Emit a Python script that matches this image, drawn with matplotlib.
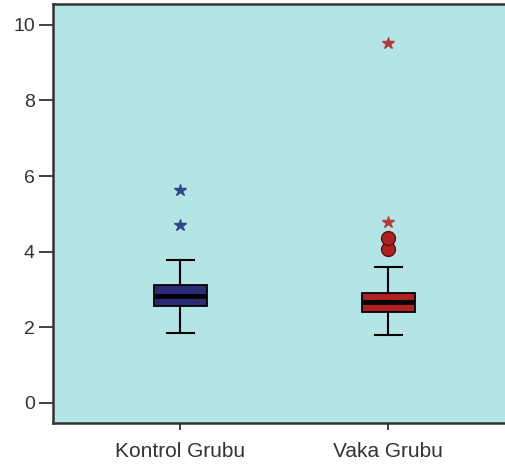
import matplotlib
matplotlib.use("Agg")
import matplotlib.pyplot as plt

plt.rcParams['font.family'] = ['Liberation Sans', 'DejaVu Sans']

categories = ["Kontrol Grubu", "Vaka Grubu"]
q1 = [2.57, 2.41]
median = [2.83, 2.67]
q3 = [3.12, 2.91]
whisker_low = [1.85, 1.80]
whisker_high = [3.78, 3.60]
outliers = [[], [4.07, 4.35]]
extremes = [[4.70, 5.62], [4.79, 9.53]]
box_colors = ["#2B2B78", "#B0201F"]
star_colors = ["#34448A", "#B53A3A"]
yticks = [0, 2, 4, 6, 8, 10]

fig = plt.figure(figsize=(5.06, 4.71), dpi=100)
ax = fig.add_axes([53/506, 48/471, 453/506, 419/471])
ax.set_facecolor("#B3E5E6")

stats = []
for i, name in enumerate(categories):
    stats.append(dict(label=name, q1=q1[i], med=median[i], q3=q3[i],
                      whislo=whisker_low[i], whishi=whisker_high[i], fliers=[]))
pos = [1, 2]
bp = ax.bxp(stats, positions=pos, widths=0.255, patch_artist=True,
            showfliers=False,
            boxprops=dict(edgecolor="black", linewidth=1.3),
            whiskerprops=dict(color="black", linewidth=1.5),
            capprops=dict(color="black", linewidth=1.5),
            medianprops=dict(color="black", linewidth=3.5),
            capwidths=0.13)
for patch, c in zip(bp['boxes'], box_colors):
    patch.set_facecolor(c)

for i in range(2):
    if outliers[i]:
        ax.plot([pos[i]] * len(outliers[i]), outliers[i], 'o', ms=10,
                mfc=box_colors[i], mec="#5A1010", mew=1.0, linestyle='none')
    ax.plot([pos[i]] * len(extremes[i]), extremes[i], '*', ms=9,
            color=star_colors[i], linestyle='none')

ax.set_xlim(0.389, 2.567)
ax.set_ylim(-0.53, 10.55)
ax.set_yticks(yticks)
ax.set_xticks(pos)
ax.set_xticklabels(categories)
ax.tick_params(axis='y', length=10, width=1.3, pad=3, labelsize=14, colors="#333333")
ax.tick_params(axis='x', length=5, width=1.3, pad=9, labelsize=15, colors="#333333")
for s in ['left', 'bottom', 'top']:
    ax.spines[s].set_color("#333333")
    ax.spines[s].set_linewidth(1.8)
ax.spines['right'].set_visible(False)

fig.savefig("out.png", dpi=100, facecolor="white")
